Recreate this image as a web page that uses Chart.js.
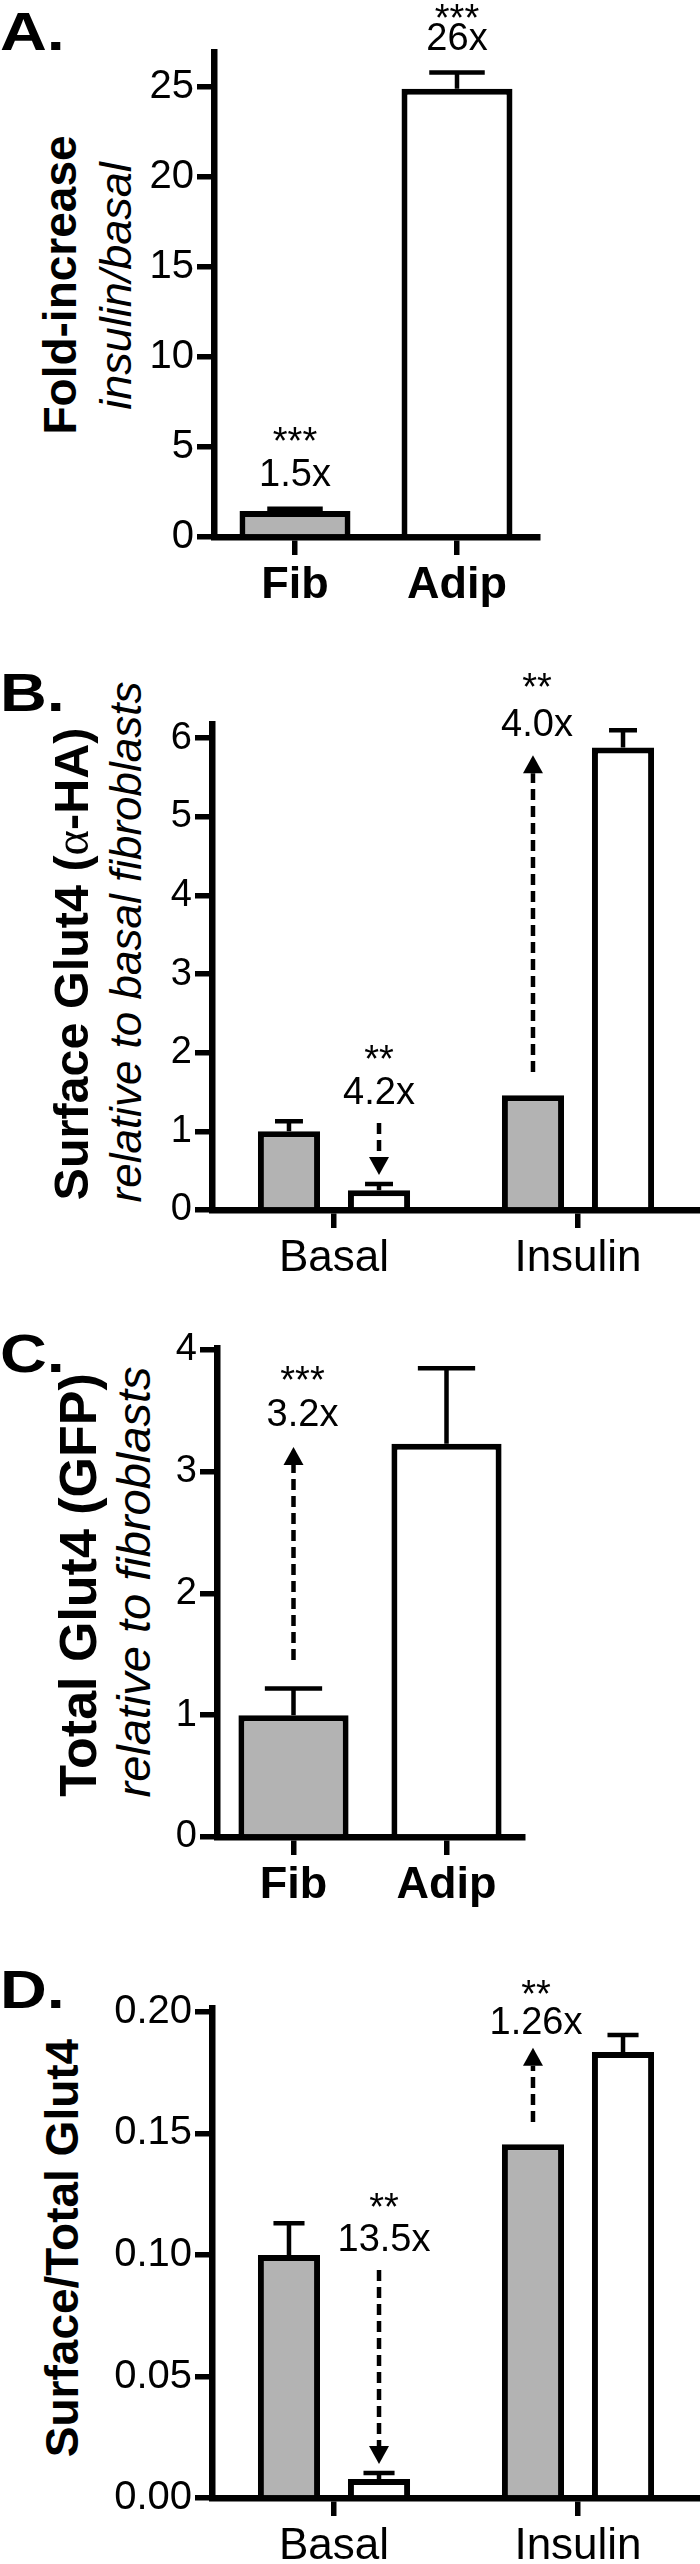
<!DOCTYPE html>
<html>
<head>
<meta charset="utf-8">
<script src="https://cdn.jsdelivr.net/npm/chart.js@4.4.1/dist/chart.umd.min.js"></script>
<style>
  html, body { margin: 0; padding: 0; background: #fff; }
  body { width: 700px; height: 2564px; position: relative; overflow: hidden;
         font-family: 'Liberation Sans', Arial, sans-serif; color: #000; }
  .letter { position: absolute; left: 0; font-weight: bold; font-size: 54px; line-height: 1;
            transform: scaleX(1.2); transform-origin: left top; }
  .ytitle { position: absolute; transform: translate(-50%, -50%) rotate(-90deg);
            white-space: nowrap; line-height: 1; }
  .b { font-weight: bold; }
  .i { font-style: italic; }
  .alpha { font-family: 'Liberation Serif', serif; font-weight: normal; }
</style>
</head>
<body>
<div class="letter" style="top:4px">A.</div>
<div class="letter" style="top:665px">B.</div>
<div class="letter" style="top:1326px">C.</div>
<div class="letter" style="top:1962px">D.</div>

<div class="ytitle b" style="left:60px;top:285px;font-size:46px">Fold-increase</div>
<div class="ytitle i" style="left:115px;top:286px;font-size:45px">insulin/basal</div>

<div class="ytitle b" style="left:72px;top:964px;font-size:48.5px">Surface Glut4 (<span class="alpha">α</span>-HA)</div>
<div class="ytitle i" style="left:126px;top:942px;font-size:44px">relative to basal fibroblasts</div>

<div class="ytitle b" style="left:78px;top:1585px;font-size:52px">Total Glut4 (GFP)</div>
<div class="ytitle i" style="left:133px;top:1582px;font-size:47px">relative to fibroblasts</div>

<div class="ytitle b" style="left:62px;top:2248px;font-size:46px">Surface/Total Glut4</div>

<script>
// categories
const cellTypes = ['Fib', 'Adip'];
const conditions = ['Basal', 'Insulin'];

// A. fold increase insulin/basal
const foldIncrease = [1.45, 24.9];
const foldIncreaseErr = [0.12, 0.9];
const foldTicks = [0, 5, 10, 15, 20, 25];
const foldLabels = ['1.5x', '26x'];

// B. surface Glut4, relative to basal fibroblasts
const surfaceFib = [1.0, 1.46];
const surfaceFibErr = [0.13, 0];
const surfaceAdip = [0.25, 5.88];
const surfaceAdipErr = [0.08, 0.22];
const surfaceTicks = [0, 1, 2, 3, 4, 5, 6];
const surfaceLabels = ['4.2x', '4.0x'];

// C. total Glut4, relative to fibroblasts
const totalGlut4 = [1.0, 3.23];
const totalGlut4Err = [0.22, 0.62];
const totalTicks = [0, 1, 2, 3, 4];
const totalLabels = ['3.2x'];

// D. surface / total
const ratioFib = [0.100, 0.1455];
const ratioFibErr = [0.013, 0];
const ratioAdip = [0.0078, 0.1835];
const ratioAdipErr = [0.0025, 0.007];
const ratioTicks = [0, 0.05, 0.10, 0.15, 0.20];
const ratioLabels = ['13.5x', '1.26x'];

const GRAY = '#b3b3b3';
const FONT = "'Liberation Sans', Arial, sans-serif";

// error bars: drawn from each bar value up by its error
function errorBars(capFrac) {
  return {
    id: 'errs',
    afterDatasetsDraw(chart) {
      const { ctx, scales: { y } } = chart;
      ctx.save();
      ctx.strokeStyle = '#000';
      ctx.lineWidth = 4.5;
      chart.data.datasets.forEach((ds, di) => {
        chart.getDatasetMeta(di).data.forEach((bar, i) => {
          const e = ds.errors[i];
          if (!e) return;
          const y0 = y.getPixelForValue(ds.data[i]);
          const y1 = y.getPixelForValue(ds.data[i] + e);
          const hw = bar.width * capFrac / 2;
          ctx.beginPath();
          ctx.moveTo(bar.x, y0); ctx.lineTo(bar.x, y1);
          ctx.moveTo(bar.x - hw, y1); ctx.lineTo(bar.x + hw, y1);
          ctx.stroke();
        });
      });
      ctx.restore();
    }
  };
}

// significance text and dashed arrows, placed in data units
function marks(items) {
  return {
    id: 'marks',
    afterDraw(chart) {
      const { ctx, scales: { y } } = chart;
      ctx.save();
      ctx.fillStyle = '#000';
      ctx.strokeStyle = '#000';
      ctx.textAlign = 'center';
      ctx.textBaseline = 'alphabetic';
      ctx.font = '38px ' + FONT;
      items.forEach(m => {
        const x = chart.getDatasetMeta(m.ds).data[m.i].x;
        m.lines.forEach(([t, v]) => ctx.fillText(t, x + (m.dx || 0), y.getPixelForValue(v)));
        if (m.arrow) {
          const a = y.getPixelForValue(m.arrow[0]);
          const b = y.getPixelForValue(m.arrow[1]);
          const dir = Math.sign(b - a), head = 18;
          ctx.lineWidth = 4.5;
          ctx.setLineDash([11, 6]);
          ctx.beginPath();
          ctx.moveTo(x, a); ctx.lineTo(x, b - dir * head);
          ctx.stroke();
          ctx.setLineDash([]);
          ctx.beginPath();
          ctx.moveTo(x, b);
          ctx.lineTo(x - 10, b - dir * head);
          ctx.lineTo(x + 10, b - dir * head);
          ctx.closePath();
          ctx.fill();
        }
      });
      ctx.restore();
    }
  };
}

function makePanel(p) {
  const canvas = document.createElement('canvas');
  canvas.width = 700;
  canvas.height = p.height;
  canvas.style.cssText = `position:absolute;left:0;top:${p.top}px;width:700px;height:${p.height}px`;
  document.body.appendChild(canvas);

  return new Chart(canvas, {
    type: 'bar',
    data: {
      labels: p.labels,
      datasets: p.datasets.map(d => ({
        data: d.data,
        errors: d.errors,
        backgroundColor: d.color,
        borderColor: '#000',
        borderWidth: 6,
        borderSkipped: 'start',
        barPercentage: p.barPct,
        categoryPercentage: p.catPct
      }))
    },
    options: {
      responsive: false,
      animation: false,
      events: [],
      layout: { padding: { left: 0, right: 700 - p.right, top: p.axisTop - p.top, bottom: 0 } },
      plugins: { legend: { display: false }, tooltip: { enabled: false } },
      scales: {
        x: {
          offset: true,
          grid: { drawOnChartArea: false, drawTicks: true, tickLength: 18, lineWidth: 5.5,
                  tickWidth: 5.5, color: '#000', tickColor: '#000', offset: false },
          border: { display: true, color: '#000', width: 6.5 },
          ticks: { color: '#000', padding: 4,
                   font: { family: FONT, size: p.xFont, weight: p.xBold ? 'bold' : 'normal' } },
          afterFit: s => { s.height = p.height - (p.zeroY - p.top); }
        },
        y: {
          min: 0,
          max: p.yMax,
          afterBuildTicks: s => { s.ticks = p.ticks.map(v => ({ value: v })); },
          grid: { drawOnChartArea: false, drawTicks: true, tickLength: 17, lineWidth: 5.5,
                  tickWidth: 5.5, color: '#000', tickColor: '#000' },
          border: { display: true, color: '#000', width: 6.5 },
          ticks: { color: '#000', padding: 3, font: { family: FONT, size: p.yFont },
                   callback: p.fmt || (v => String(v)) },
          afterFit: s => { s.width = p.axisX; }
        }
      }
    },
    plugins: [errorBars(p.capFrac), marks(p.marks)]
  });
}

// A
makePanel({
  top: 0, height: 640, axisX: 214, axisTop: 52, zeroY: 537, right: 538,
  yMax: 26.94, ticks: foldTicks, yFont: 40, xFont: 45, xBold: true,
  labels: cellTypes, barPct: 0.685, catPct: 1, capFrac: 0.5,
  datasets: [{ data: foldIncrease, errors: foldIncreaseErr, color: [GRAY, '#fff'] }],
  marks: [
    { ds: 0, i: 0, lines: [['***', 4.61], [foldLabels[0], 2.83]] },
    { ds: 0, i: 1, lines: [['***', 28.1], [foldLabels[1], 27.06]] }
  ]
});

// B
makePanel({
  top: 640, height: 660, axisX: 212, axisTop: 724, zeroY: 1210, right: 700,
  yMax: 6.18, ticks: surfaceTicks, yFont: 38, xFont: 44, xBold: false,
  labels: conditions, barPct: 0.69, catPct: 0.738, capFrac: 0.45,
  datasets: [
    { data: surfaceFib, errors: surfaceFibErr, color: GRAY },
    { data: surfaceAdip, errors: surfaceAdipErr, color: '#fff' }
  ],
  marks: [
    { ds: 1, i: 0, lines: [['**', 1.754], [surfaceLabels[0], 1.347]], arrow: [1.106, 0.445] },
    { ds: 0, i: 1, dx: 4, lines: [['**', 6.483], [surfaceLabels[1], 6.025]], arrow: [1.754, 5.784] }
  ]
});

// C
makePanel({
  top: 1300, height: 630, axisX: 217, axisTop: 1348, zeroY: 1837, right: 523,
  yMax: 4.016, ticks: totalTicks, yFont: 38, xFont: 45, xBold: true,
  labels: cellTypes, barPct: 0.72, catPct: 1, capFrac: 0.52,
  datasets: [{ data: totalGlut4, errors: totalGlut4Err, color: [GRAY, '#fff'] }],
  marks: [
    { ds: 0, i: 0, dx: 9, lines: [['***', 3.647], [totalLabels[0], 3.376]], arrow: [1.454, 3.203] }
  ]
});

// D
makePanel({
  top: 1930, height: 634, axisX: 212, axisTop: 2008, zeroY: 2498, right: 700,
  yMax: 0.2016, ticks: ratioTicks, yFont: 40, xFont: 44, xBold: false,
  fmt: v => v.toFixed(2),
  labels: conditions, barPct: 0.69, catPct: 0.738, capFrac: 0.5,
  datasets: [
    { data: ratioFib, errors: ratioFibErr, color: GRAY },
    { data: ratioAdip, errors: ratioAdipErr, color: '#fff' }
  ],
  marks: [
    { ds: 1, i: 0, dx: 5, lines: [['**', 0.1144], [ratioLabels[0], 0.1016]], arrow: [0.0938, 0.0140] },
    { ds: 0, i: 1, dx: 3, lines: [['**', 0.2021], [ratioLabels[1], 0.1909]], arrow: [0.1547, 0.1852] }
  ]
});
</script>
</body>
</html>
